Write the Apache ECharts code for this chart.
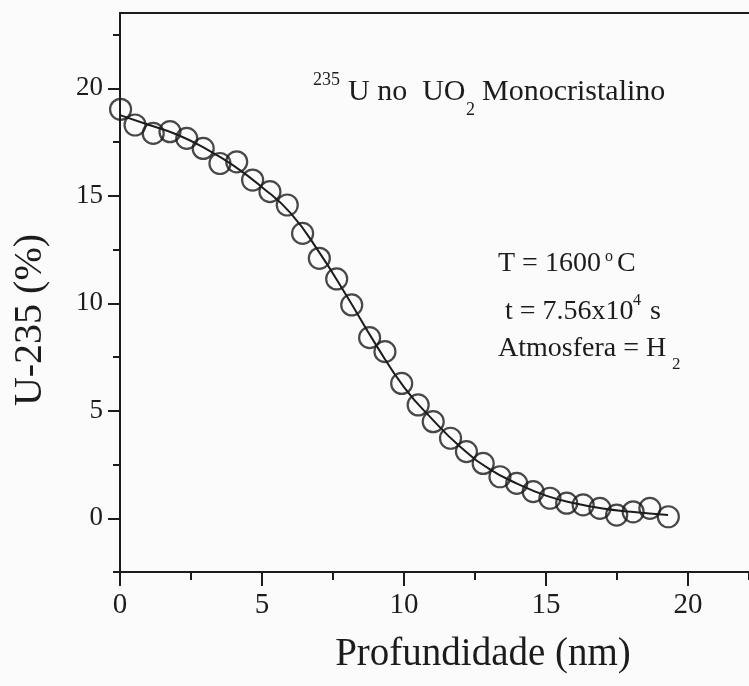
<!DOCTYPE html>
<html>
<head>
<meta charset="utf-8">
<script src="https://cdn.jsdelivr.net/npm/echarts@6/dist/echarts.min.js"></script>
<style>
  html, body { margin: 0; padding: 0; background: #fbfbfb; }
  #main { width: 749px; height: 686px; }
</style>
</head>
<body>
<div id="main"></div>
<script>
// measured points (profundidade nm, U-235 %)
var depth = [0.02, 0.53, 1.17, 1.76, 2.35, 2.93, 3.52, 4.11, 4.67, 5.28, 5.89, 6.43, 7.02, 7.63, 8.16, 8.79, 9.33,
  9.92, 10.5, 11.03, 11.64, 12.2, 12.79, 13.38, 13.97, 14.55, 15.14, 15.73, 16.31, 16.9, 17.49, 18.07, 18.66, 19.31];
var u235 = [19.02, 18.29, 17.9, 17.98, 17.67, 17.2, 16.5, 16.58, 15.73, 15.19, 14.57, 13.25, 12.09, 11.13, 9.92, 8.4, 7.75,
  6.27, 5.27, 4.49, 3.72, 3.1, 2.55, 1.93, 1.62, 1.24, 0.93, 0.70, 0.62, 0.46, 0.15, 0.30, 0.46, 0.07];

// fitted curve
var fitX = [0, 1, 2, 3, 4, 5, 6, 7, 8, 9, 10, 11, 12, 13, 14, 15, 16, 17, 18, 19.3];
var fitY = [18.75, 18.3, 17.85, 17.2, 16.4, 15.4, 14.2, 12.4, 10.3, 8.1, 6.1, 4.6, 3.3, 2.3, 1.6, 1.05, 0.7, 0.45, 0.3, 0.15];

var xTicks = [0, 5, 10, 15, 20];
var yTicks = [0, 5, 10, 15, 20];

var ink = '#1c1c1c';
var serif = 'Liberation Serif';
var xEnd = 22.15; // the page crops the plot at the right edge

var points = depth.map(function (d, i) { return [d, u235[i]]; });
var fit = fitX.map(function (d, i) { return [d, fitY[i]]; });

function txt(x, y, s, size, align) {
  return {
    type: 'text', x: x, y: y, silent: true,
    style: { text: s, fill: ink, font: size + 'px "' + serif + '"', align: align || 'left', verticalAlign: 'middle' }
  };
}

var noAxis = { show: false };
var option = {
  backgroundColor: '#fbfbfb',
  animation: false,
  grid: [
    { left: 120, right: 0, top: 13, bottom: 114 },         // frame + data
    { left: 120, right: 0, top: 34.5, bottom: 114 },       // minor ticks
    { left: 120, right: 61, top: 88.25, bottom: 167.75 }   // major ticks + labels
  ],
  xAxis: [
    { type: 'value', gridIndex: 0, min: 0, max: xEnd, position: 'bottom',
      axisLine: { onZero: false, lineStyle: { color: ink, width: 2 } },
      axisTick: noAxis, axisLabel: noAxis, splitLine: noAxis },
    { type: 'value', gridIndex: 0, min: 0, max: xEnd, position: 'top',
      axisLine: { onZero: false, lineStyle: { color: ink, width: 2 } },
      axisTick: noAxis, axisLabel: noAxis, splitLine: noAxis },
    { type: 'value', gridIndex: 1, min: 0, max: xEnd, interval: 2.5, position: 'bottom',
      axisLine: { show: false, onZero: false },
      axisTick: { length: 8, lineStyle: { color: ink, width: 2 } },
      axisLabel: noAxis, splitLine: noAxis },
    { type: 'value', gridIndex: 2, min: 0, max: 20, interval: 5, position: 'bottom', offset: 53.75,
      axisLine: { show: false, onZero: false },
      axisTick: { length: 14, lineStyle: { color: ink, width: 2 } },
      axisLabel: { margin: 19, color: ink, fontFamily: serif, fontSize: 29 },
      splitLine: noAxis }
  ],
  yAxis: [
    { type: 'value', gridIndex: 0, min: -2.5, max: 23.5, position: 'left',
      axisLine: { onZero: false, lineStyle: { color: ink, width: 2 } },
      axisTick: noAxis, axisLabel: noAxis, splitLine: noAxis },
    { type: 'value', gridIndex: 1, min: -2.5, max: 22.5, interval: 2.5, position: 'left',
      axisLine: { show: false, onZero: false },
      axisTick: { length: 7, lineStyle: { color: ink, width: 2 } },
      axisLabel: noAxis, splitLine: noAxis },
    { type: 'value', gridIndex: 2, min: 0, max: 20, interval: 5, position: 'left',
      axisLine: { show: false, onZero: false },
      axisTick: { length: 12, lineStyle: { color: ink, width: 2 } },
      axisLabel: { margin: 17, color: ink, fontFamily: serif, fontSize: 27 },
      splitLine: noAxis }
  ],
  series: [
    {
      type: 'line', xAxisIndex: 0, yAxisIndex: 0, data: fit, smooth: true,
      showSymbol: false, lineStyle: { color: ink, width: 2 }, silent: true
    },
    {
      type: 'scatter', xAxisIndex: 0, yAxisIndex: 0, data: points, symbol: 'circle', symbolSize: 21,
      itemStyle: { color: 'transparent', borderColor: ink, borderWidth: 2.2 }, silent: true
    }
  ],
  graphic: [
    // title inside plot
    txt(313, 80.7, '235', 18),
    txt(348, 92.5, 'U no  UO', 30),
    txt(466, 110.7, '2', 18),
    txt(482, 92.5, 'Monocristalino', 30),
    // conditions
    txt(498, 263.5, 'T = 1600', 28),
    txt(605, 257, 'o', 16),
    txt(617, 263.5, 'C', 28),
    txt(505, 312, 't = 7.56x10', 28),
    txt(633, 300.5, '4', 16),
    txt(650, 312, 's', 28),
    txt(498, 348.5, 'Atmosfera = H', 28),
    txt(672, 365, '2', 17),
    // axis names
    txt(483, 655, 'Profundidade (nm)', 39, 'center'),
    {
      type: 'text', x: 30, y: 320, rotation: Math.PI / 2, silent: true,
      style: { text: 'U-235 (%)', fill: ink, font: '40px "' + serif + '"', align: 'center', verticalAlign: 'middle' }
    }
  ]
};

var chart = echarts.init(document.getElementById('main'));
chart.setOption(option);
</script>
</body>
</html>
